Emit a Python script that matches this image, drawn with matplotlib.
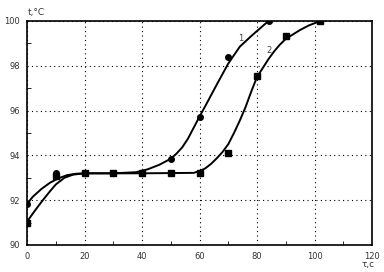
import matplotlib
matplotlib.use("Agg")
import matplotlib.pyplot as plt
from matplotlib.ticker import MultipleLocator

# measured points
tau_1 = [0, 10, 50, 60, 70, 84]
temp_1 = [91.83, 93.2, 93.84, 95.7, 98.4, 100.0]
tau_2 = [0, 10, 20, 30, 40, 50, 60, 70, 80, 90, 102]
temp_2 = [91.0, 93.1, 93.2, 93.2, 93.2, 93.2, 93.23, 94.12, 97.53, 99.34, 100.0]

# fitted curves
curve_1_x = [0, 2, 5, 8, 11, 14, 17, 20, 30, 38, 42, 46, 50, 52, 54, 56, 58, 60, 62,
             66, 70, 74, 78, 84]
curve_1_y = [91.83, 92.15, 92.5, 92.78, 92.98, 93.12, 93.18, 93.2, 93.2, 93.25, 93.38,
             93.58, 93.85, 94.08, 94.36, 94.75, 95.24, 95.73, 96.2, 97.16, 98.1, 98.85,
             99.33, 100.0]
curve_2_x = [0, 2, 4, 6, 8, 10, 13, 16, 20, 40, 58, 60, 62, 64, 66, 68, 70, 72, 74, 76,
             78, 80, 82, 84, 86, 88, 90, 95, 98, 102]
curve_2_y = [91.04, 91.4, 91.75, 92.08, 92.4, 92.7, 93.0, 93.14, 93.2, 93.2, 93.22, 93.3,
             93.42, 93.62, 93.87, 94.15, 94.5, 95.0, 95.55, 96.15, 96.85, 97.5, 97.9, 98.3,
             98.65, 98.95, 99.2, 99.6, 99.8, 100.0]

fig = plt.figure(figsize=(3.84, 2.72), dpi=100)
ax = fig.add_axes([27 / 384, 1 - 245 / 272, 345 / 384, 224 / 272])

ax.plot(curve_1_x, curve_1_y, color="black", lw=1.4)
ax.plot(curve_2_x, curve_2_y, color="black", lw=1.4)
ax.plot(tau_1, temp_1, "o", color="black", ms=4, zorder=5)
ax.plot(tau_2, temp_2, "s", color="black", ms=4, zorder=5)

ax.text(74.4, 99.24, "1", fontsize=6, color="#444444", ha="center", va="center")
ax.text(84.1, 98.7, "2", fontsize=6, color="#444444", ha="center", va="center")

ax.set_xlim(0, 120)
ax.set_ylim(90, 100)
ax.xaxis.set_major_locator(MultipleLocator(20))
ax.xaxis.set_minor_locator(MultipleLocator(10))
ax.yaxis.set_major_locator(MultipleLocator(2))
ax.yaxis.set_minor_locator(MultipleLocator(1))
ax.tick_params(which="both", direction="in", labelsize=6, colors="black",
               labelcolor="#333333")
ax.tick_params(which="major", length=0, pad=5)
ax.tick_params(which="minor", length=3)
ax.grid(True, which="major", color="black", linestyle=(0, (1, 3)), lw=0.8)

for s in ax.spines.values():
    s.set_linewidth(1.2)

fig.text(28 / 384, 1 - 13 / 272, "t,°C", fontsize=6.5, color="#333333",
         ha="left", va="center")
fig.text(368 / 384, 1 - 265 / 272, "τ,c", fontsize=6.5, color="#333333",
         ha="center", va="center")

fig.savefig("out.png", dpi=100)
